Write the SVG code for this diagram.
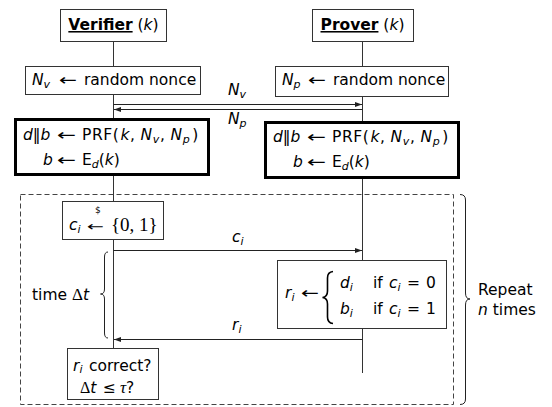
<svg xmlns="http://www.w3.org/2000/svg" width="552" height="407" viewBox="0 0 552 407">
<defs>
<marker id="ah" viewBox="0 0 7 5" refX="7" refY="2.5" markerWidth="7" markerHeight="5" orient="auto" markerUnits="userSpaceOnUse">
<path d="M0,0 L7,2.5 L0,5 z" fill="#222"/>
</marker>
<style>
text{font-family:"DejaVu Sans",sans-serif;font-size:15.5px;fill:#000}
.i{font-style:italic}
.s{font-size:11px}
.b{font-weight:bold;text-decoration:underline}
.m{font-family:"Liberation Serif",serif;font-size:18px}
.box{fill:#fff;stroke:#333;stroke-width:1}
.thick{fill:#fff;stroke:#000;stroke-width:3}
.life{stroke:#333;stroke-width:1;fill:none}
.msg{stroke:#222;stroke-width:1;fill:none;marker-end:url(#ah)}
.brace{stroke:#222;stroke-width:1;fill:none}
.dash{fill:none;stroke:#444;stroke-width:1;stroke-dasharray:5 3}
</style>
</defs>

<g id="lifelines">
<line class="life" x1="113.5" y1="41" x2="113.5" y2="348"/>
<line class="life" x1="362.5" y1="41" x2="362.5" y2="373"/>
</g>

<g id="repeat-frame">
<rect class="dash" x="20.5" y="194.5" width="433" height="210"/>
<path class="brace" d="M460,194.5 Q465.5,194.5 465.5,200 L465.5,293 Q465.5,299 470,299 Q465.5,299 465.5,305 L465.5,399 Q465.5,404.5 460,404.5"/>
<text x="478" y="295">Repeat</text>
<text x="478" y="315"><tspan class="i">n</tspan> times</text>
</g>

<g id="verifier">
<rect class="box" x="60.5" y="9.5" width="106" height="32"/>
<text x="113.5" y="30" text-anchor="middle"><tspan class="b">Verifier</tspan> (<tspan class="i">k</tspan>)</text>
</g>

<g id="prover">
<rect class="box" x="312.5" y="9.5" width="101" height="32"/>
<text x="362.5" y="30" text-anchor="middle"><tspan class="b">Prover</tspan> (<tspan class="i">k</tspan>)</text>
</g>

<g id="nv-nonce">
<rect class="box" x="25.5" y="66.5" width="175" height="28"/>
<text x="32" y="85"><tspan class="i">N</tspan><tspan class="i s" dy="3">v</tspan></text>
<text x="59" y="85" textLength="18" lengthAdjust="spacingAndGlyphs">←</text>
<text x="84" y="85">random nonce</text>
</g>

<g id="np-nonce">
<rect class="box" x="275.5" y="66.5" width="173" height="30"/>
<text x="282" y="85"><tspan class="i">N</tspan><tspan class="i s" dy="3">p</tspan></text>
<text x="308" y="85" textLength="18" lengthAdjust="spacingAndGlyphs">←</text>
<text x="333" y="85">random nonce</text>
</g>

<g id="verifier-prf">
<rect class="thick" x="15.5" y="119.5" width="193" height="55"/>
<text x="23" y="140"><tspan class="i">d</tspan>‖<tspan class="i">b</tspan></text>
<text x="57" y="140" textLength="19" lengthAdjust="spacingAndGlyphs">←</text>
<text x="82" y="140" letter-spacing="0.6">PRF(<tspan class="i" dx="1">k</tspan>,<tspan class="i" dx="5">N</tspan><tspan class="i s" dy="3">v</tspan><tspan dy="-3">,</tspan><tspan class="i" dx="5">N</tspan><tspan class="i s" dy="3">p</tspan><tspan dy="-3" dx="2">)</tspan></text>
<text x="43" y="165"><tspan class="i">b</tspan></text>
<text x="57" y="165" textLength="19" lengthAdjust="spacingAndGlyphs">←</text>
<text x="82" y="165">E<tspan class="i s" dy="3">d</tspan><tspan dy="-3">(</tspan><tspan class="i">k</tspan>)</text>
</g>

<g id="prover-prf">
<rect class="thick" x="265.5" y="122.5" width="193" height="55"/>
<text x="273" y="142"><tspan class="i">d</tspan>‖<tspan class="i">b</tspan></text>
<text x="307" y="142" textLength="19" lengthAdjust="spacingAndGlyphs">←</text>
<text x="332" y="142" letter-spacing="0.6">PRF(<tspan class="i" dx="1">k</tspan>,<tspan class="i" dx="5">N</tspan><tspan class="i s" dy="3">v</tspan><tspan dy="-3">,</tspan><tspan class="i" dx="5">N</tspan><tspan class="i s" dy="3">p</tspan><tspan dy="-3" dx="2">)</tspan></text>
<text x="293" y="167"><tspan class="i">b</tspan></text>
<text x="307" y="167" textLength="19" lengthAdjust="spacingAndGlyphs">←</text>
<text x="332" y="167">E<tspan class="i s" dy="3">d</tspan><tspan dy="-3">(</tspan><tspan class="i">k</tspan>)</text>
</g>

<g id="challenge">
<rect class="box" x="62.5" y="201.5" width="101" height="38"/>
<text x="69" y="230"><tspan class="i">c</tspan><tspan class="i s" dy="3">i</tspan></text>
<text x="87" y="231" textLength="17" lengthAdjust="spacingAndGlyphs" style="font-size:13px">←</text>
<text x="95" y="213" style="font-size:9px">$</text>
<text x="111" y="231" class="m" style="font-size:19px">{0, 1}</text>
</g>

<g id="response">
<rect class="box" x="277.5" y="260.5" width="169" height="68"/>
<text x="285" y="298"><tspan class="i">r</tspan><tspan class="i s" dy="3">i</tspan></text>
<text x="301" y="298" textLength="18" lengthAdjust="spacingAndGlyphs">←</text>
<path d="M333,271.5 Q327.5,272 327.5,278 L327.5,291 Q327.5,297 322.5,297.5 Q327.5,298 327.5,304 L327.5,317 Q327.5,323 333,323.5" fill="none" stroke="#000" stroke-width="1.6"/>
<text x="340" y="288"><tspan class="i">d</tspan><tspan class="i s" dy="3">i</tspan><tspan x="373" dy="-3">if</tspan><tspan x="389" class="i">c</tspan><tspan class="i s" dy="3">i</tspan><tspan x="407" dy="-3">=</tspan><tspan x="426">0</tspan></text>
<text x="340" y="314"><tspan class="i">b</tspan><tspan class="i s" dy="3">i</tspan><tspan x="373" dy="-3">if</tspan><tspan x="389" class="i">c</tspan><tspan class="i s" dy="3">i</tspan><tspan x="407" dy="-3">=</tspan><tspan x="426">1</tspan></text>
</g>

<g id="check">
<rect class="box" x="67.5" y="348.5" width="91" height="51"/>
<text x="73" y="371"><tspan class="i">r</tspan><tspan class="i s" dy="2">i</tspan><tspan x="89" dy="-2">correct?</tspan></text>
<text x="80" y="393"><tspan class="m" style="font-size:16px">Δ</tspan><tspan class="i">t</tspan><tspan x="103">≤</tspan><tspan x="120" class="m i" style="font-size:17px">τ</tspan><tspan>?</tspan></text>
</g>

<g id="timer">
<path class="brace" d="M108,252 Q104.5,252 104.5,257 L104.5,289 Q104.5,294 100.5,294 Q104.5,294 104.5,299 L104.5,333 Q104.5,338 108,338"/>
<text x="32" y="300">time <tspan class="m" style="font-size:17px">Δ</tspan><tspan class="i">t</tspan></text>
</g>

<g id="connectors">
<line class="msg" x1="113.5" y1="104.5" x2="362" y2="104.5"/>
<line class="msg" x1="362.5" y1="109.5" x2="114" y2="109.5"/>
<line class="msg" x1="113.5" y1="250.5" x2="362" y2="250.5"/>
<line class="msg" x1="362.5" y1="339.5" x2="114" y2="339.5"/>
<text x="228" y="95"><tspan class="i">N</tspan><tspan class="i s" dy="3">v</tspan></text>
<text x="228" y="124"><tspan class="i">N</tspan><tspan class="i s" dy="3">p</tspan></text>
<text x="232" y="242"><tspan class="i">c</tspan><tspan class="i s" dy="3">i</tspan></text>
<text x="232" y="330"><tspan class="i">r</tspan><tspan class="i s" dy="3">i</tspan></text>
</g>
</svg>
